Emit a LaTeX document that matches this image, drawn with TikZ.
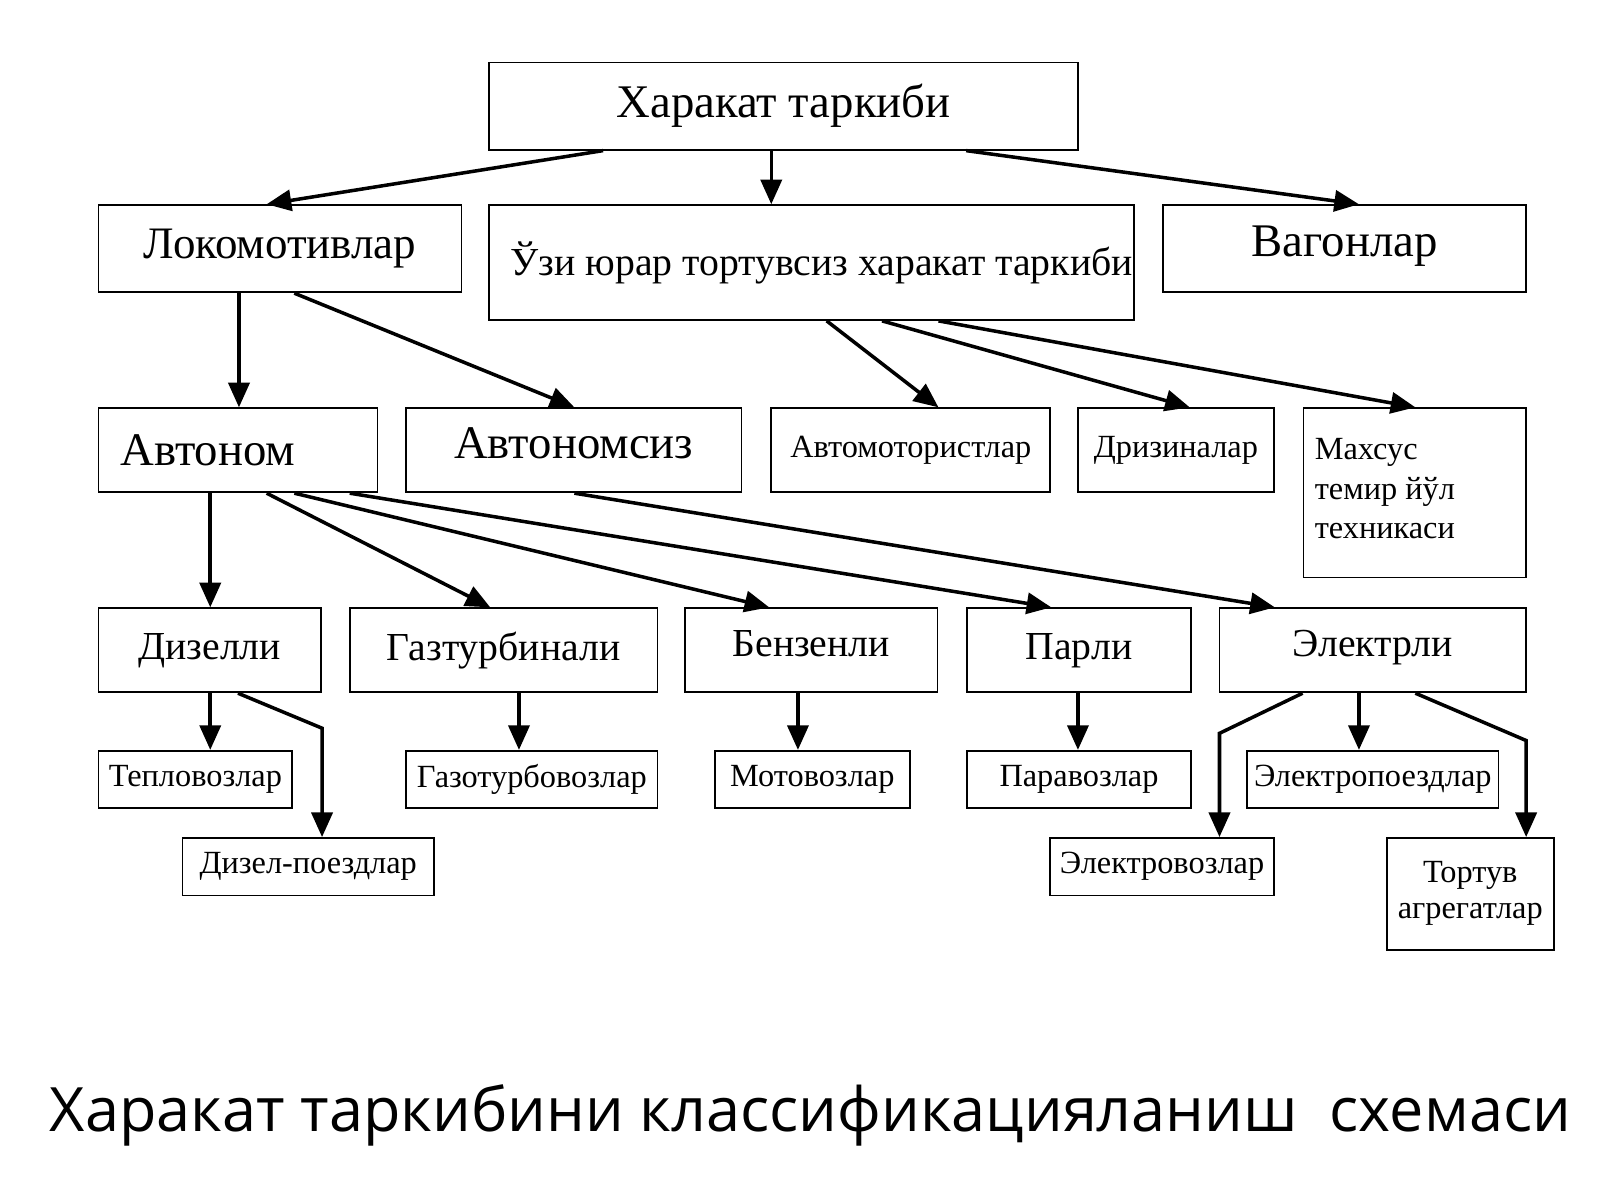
\documentclass[tikz,border=0pt]{standalone}
\usepackage{fontspec}
\setmainfont{Liberation Serif}
\newfontfamily\capfont{Open Sans}
\usetikzlibrary{arrows.meta}
\begin{document}
\begin{tikzpicture}[x=0.01026cm,y=-0.01026cm,
  bx/.style={draw,line width=0.5pt,inner sep=0pt},
  ar/.style={line width=1pt,-{Triangle[length=7pt,width=6pt]}}]
\useasboundingbox (0,0) rectangle (1560,1170);
\newcommand{\bxn}[6]{\node[bx,minimum width=#4*0.01026cm-#2*0.01026cm,minimum height=#5*0.01026cm-#3*0.01026cm,font=\fontsize{#6}{#6}\selectfont] (#1) at ({(#2+#4)/2},{(#3+#5)/2})}
\bxn{top}{477}{61}{1051}{146}{13.3pt}{Харакат таркиби};
\bxn{lok}{96}{200}{450}{285}{12.8pt}{Локомотивлар};
\bxn{uzi}{477}{200}{1106}{312}{11.3pt}{\hspace*{0.2cm}Ўзи юрар тортувсиз харакат таркиби};
\bxn{vag}{1134}{200}{1488}{285}{13.3pt}{\raisebox{4pt}{Вагонлар}};
\bxn{avt}{96}{398}{368}{480}{13.3pt}{\raisebox{-4pt}{Автоном}\hspace*{0.6cm}};
\bxn{avs}{396}{398}{723}{480}{13.3pt}{\raisebox{4pt}{Автономсиз}};
\bxn{amot}{752}{398}{1024}{480}{9.2pt}{Автомотористлар};
\bxn{driz}{1051}{398}{1242}{480}{9.2pt}{Дризиналар};
\bxn{mah}{1271}{398}{1488}{563}{9.2pt}{\begin{tabular}{@{}l@{}}Махсус\\[2pt] темир йўл\\[2pt] техникаси\end{tabular}\hspace*{0.6cm}};
\bxn{diz}{96}{593}{313}{675}{11.3pt}{Дизелли};
\bxn{gaz}{341}{593}{641}{675}{11.3pt}{Газтурбинали};
\bxn{ben}{668}{593}{914}{675}{11.3pt}{\raisebox{4pt}{Бензенли}};
\bxn{par}{943}{593}{1161}{675}{11.3pt}{Парли};
\bxn{ele}{1189}{593}{1488}{675}{11.3pt}{\raisebox{4pt}{Электрли}};
\bxn{tep}{96}{732}{285}{788}{9.2pt}{Тепловозлар};
\bxn{gzt}{396}{732}{641}{788}{9.2pt}{Газотурбовозлар};
\bxn{mot}{697}{732}{887}{788}{9.2pt}{Мотовозлар};
\bxn{prv}{943}{732}{1161}{788}{9.2pt}{Паравозлар};
\bxn{elp}{1216}{732}{1461}{788}{9.2pt}{Электропоездлар};
\bxn{dzp}{178}{817}{423}{873}{9.2pt}{Дизел-поездлар};
\bxn{elv}{1024}{817}{1242}{873}{9.2pt}{Электровозлар};
\bxn{tor}{1352}{817}{1515}{926}{9.2pt}{\begin{tabular}{@{}c@{}}Тортув\\[1pt] агрегатлар\end{tabular}};
\node[font=\capfont\fontsize{17.4pt}{17.4pt}\selectfont] (cap) at (790,1088) {Харакат таркибини классификацияланиш\ \ схемаси};
% arrows
\draw[ar] (top.south -| 588,0) -- (lok.north -| 260,0);
\draw[ar] (top.south -| 752,0) -- (uzi.north -| 752,0);
\draw[ar] (top.south -| 942,0) -- (vag.north -| 1325,0);
\draw[ar] (lok.south -| 233,0) -- (avt.north -| 233,0);
\draw[ar] (lok.south -| 287,0) -- (avs.north -| 560,0);
\draw[ar] (uzi.south -| 806,0) -- (amot.north -| 915,0);
\draw[ar] (uzi.south -| 860,0) -- (driz.north -| 1160,0);
\draw[ar] (uzi.south -| 915,0) -- (mah.north -| 1380,0);
\draw[ar] (avt.south -| 205,0) -- (diz.north -| 205,0);
\draw[ar] (avt.south -| 260,0) -- (gaz.north -| 478,0);
\draw[ar] (avt.south -| 287,0) -- (ben.north -| 750,0);
\draw[ar] (avt.south -| 341,0) -- (par.north -| 1025,0);
\draw[ar] (avs.south -| 560,0) -- (ele.north -| 1243,0);
\draw[ar] (diz.south -| 205,0) -- (tep.north -| 205,0);
\draw[ar] (diz.south -| 232,0) -- (314,710) -- (dzp.north -| 314,0);
\draw[ar] (gaz.south -| 506,0) -- (gzt.north -| 506,0);
\draw[ar] (ben.south -| 778,0) -- (mot.north -| 778,0);
\draw[ar] (par.south -| 1051,0) -- (prv.north -| 1051,0);
\draw[ar] (ele.south -| 1270,0) -- (1189,715) -- (elv.north -| 1189,0);
\draw[ar] (ele.south -| 1325,0) -- (elp.north -| 1325,0);
\draw[ar] (ele.south -| 1380,0) -- (1488,722) -- (tor.north -| 1488,0);
\end{tikzpicture}
\end{document}
